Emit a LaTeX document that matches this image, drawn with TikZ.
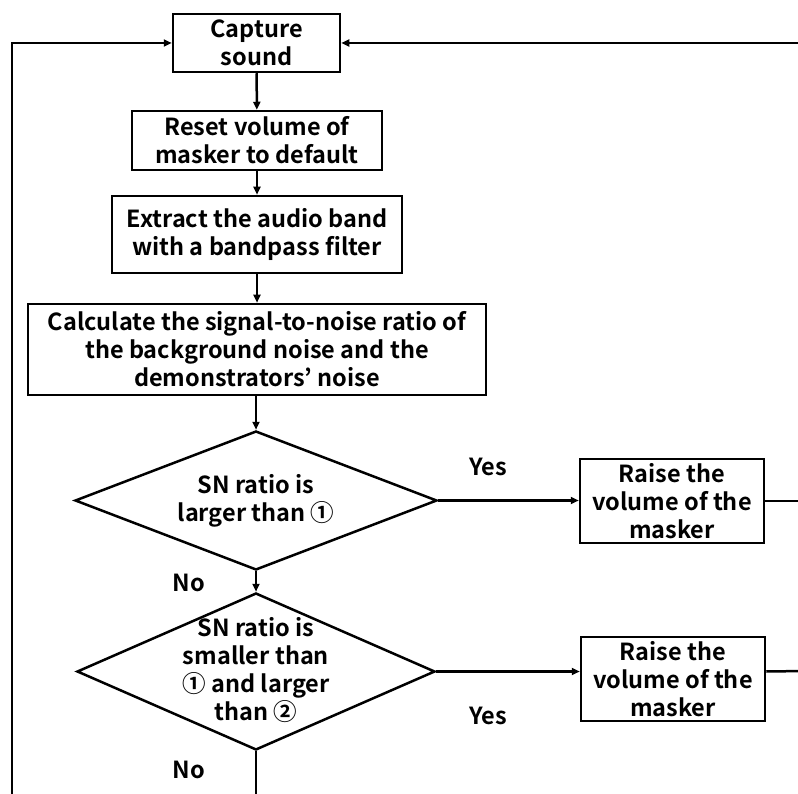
\documentclass[tikz,border=0pt]{standalone}
\usepackage{fontspec}
\setmainfont{Noto Sans CJK JP}[BoldFont={* Bold}]
\usetikzlibrary{shapes.geometric,arrows.meta}
\begin{document}
\begin{tikzpicture}[x=1pt,y=-1pt,
  every node/.style={font=\fontsize{23.5}{28}\selectfont\bfseries},
  box/.style={draw,line width=2.5pt,align=center,inner sep=0pt},
  dia/.style={draw,diamond,line width=2.5pt,inner sep=0pt},
  lbl/.style={align=center,inner sep=0pt},
  conn/.style={line width=2.5pt},
  arr/.style={line width=2.5pt,-{Triangle[length=8pt,width=7pt]}}]
\useasboundingbox (0,0) rectangle (798,794);
\node[box,minimum width=167pt,minimum height=58pt] (cap) at (256.5,43) {Capture\\sound};
\node[box,minimum width=250pt,minimum height=59pt] (res) at (257,140.5) {Reset volume of\\masker to default};
\node[box,minimum width=290pt,minimum height=77pt] (ext) at (257,234.5) {Extract the audio band\\with a bandpass filter};
\node[box,minimum width=458pt,minimum height=91pt] (calc) at (257,349.5) {Calculate the signal-to-noise ratio of\\the background noise and the\\demonstrators' noise};
\node[dia,minimum width=362pt,minimum height=139pt] (d1) at (256,500.5) {};
\node[lbl] (d1t) at (256,501) {SN ratio is\\larger than ①};
\node[dia,minimum width=358pt,minimum height=157pt] (d2) at (256,671.5) {};
\node[lbl] (d2t) at (256,670) {SN ratio is\\smaller than\\① and larger\\than ②};
\node[box,minimum width=184pt,minimum height=84pt] (r1) at (672,501) {Raise the\\volume of the\\masker};
\node[box,minimum width=184pt,minimum height=84pt] (r2) at (673,679) {Raise the\\volume of the\\masker};
\node[lbl] (y1) at (488,467) {Yes};
\node[lbl] (y2) at (488,716) {Yes};
\node[lbl] (n1) at (189,583) {No};
\node[lbl] (n2) at (189,770) {No};
\coordinate (lb) at (12,800);
\coordinate (rt) at (805,43);
\coordinate (r1e) at (805,501);
\coordinate (r2e) at (805,671);
\coordinate (bot) at (256,800);
\draw[arr] (lb) |- (cap.west);
\draw[arr] (rt) -- (cap.east);
\draw[arr] (cap) -- (res);
\draw[arr] (res) -- (ext);
\draw[arr] (ext) -- (calc);
\draw[arr] (calc.south -| d1.north) -- (d1.north);
\draw[arr] (d1.east) -- (d1.east -| r1.west);
\draw[conn] (r1.east) -- (r1e);
\draw[arr] (d1.south) -- (d2.north);
\draw[arr] (d2.east) -- (d2.east -| r2.west);
\draw[conn] (d2.east -| r2.east) -- (r2e);
\draw[conn] (d2.south) -- (bot);
\end{tikzpicture}
\end{document}
